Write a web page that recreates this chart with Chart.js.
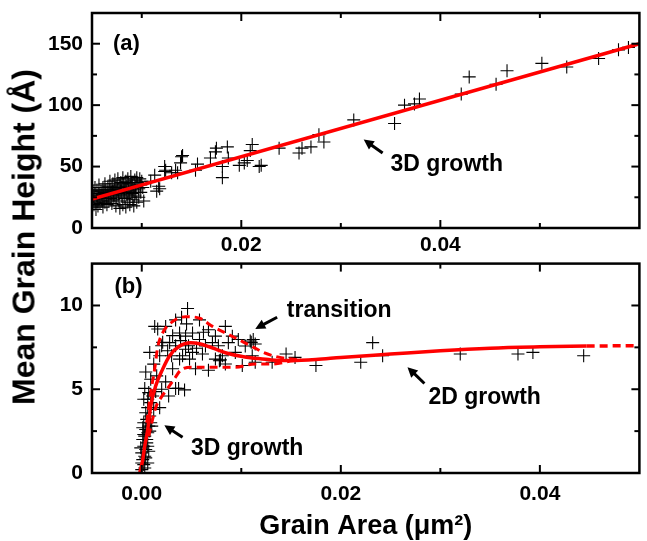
<!DOCTYPE html>
<html><head><meta charset="utf-8">
<script src="https://cdn.jsdelivr.net/npm/chart.js@4.4.1/dist/chart.umd.min.js"></script>
<style>
html,body{margin:0;padding:0;background:#fff;overflow:hidden;width:647px;height:541px;position:relative;}
#c1{position:absolute;left:0;top:0;}
#c2{position:absolute;left:0;top:256px;}
#ytitle{position:absolute;left:24px;top:237px;transform:translate(-50%,-50%) rotate(-90deg);font:bold 32px "Liberation Sans",Arial,sans-serif;white-space:nowrap;color:#000;}
</style></head>
<body>
<canvas id="c1" width="647" height="258"></canvas>
<canvas id="c2" width="647" height="287"></canvas>
<div id="ytitle">Mean Grain Height (Å)</div>
<script>
// ---------- DATA ----------
// Panel (a): tick labels
const topXTicks = [0.02, 0.04];
const topXMinor = [0.01, 0.03, 0.05];
const topYTicks = [0, 50, 100, 150];
const topYMinor = [25, 75, 125];
// Panel (a): linear fit
const topFitX = [0.005, 0.06];
const topFitY = [23.5, 150];
// Panel (a): measured grains [area, height]
const topPoints = [
[0.0050,17],[0.0050,22],[0.0051,26],[0.0051,30],[0.0052,19],[0.0052,24],[0.0053,28],[0.0053,33],[0.0054,21],[0.0054,15],
[0.0055,26],[0.0055,31],[0.0056,23],[0.0056,18],[0.0057,28],[0.0057,35],[0.0058,20],[0.0058,25],[0.0059,30],[0.0060,22],
[0.0060,27],[0.0061,33],[0.0061,17],[0.0062,25],[0.0062,29],[0.0063,21],[0.0063,36],[0.0064,27],[0.0064,31],[0.0065,24],
[0.0065,19],[0.0066,29],[0.0066,34],[0.0067,26],[0.0067,22],[0.0068,31],[0.0068,38],[0.0069,28],[0.0069,24],[0.0070,33],
[0.0070,20],[0.0071,30],[0.0071,36],[0.0072,27],[0.0072,23],[0.0073,32],[0.0073,39],[0.0074,29],[0.0074,18],[0.0075,34],
[0.0075,25],[0.0076,31],[0.0076,40],[0.0077,28],[0.0077,22],[0.0078,35],[0.0078,16],[0.0079,30],[0.0079,37],[0.0080,26],
[0.0080,33],[0.0081,19],[0.0081,41],[0.0082,29],[0.0082,36],[0.0083,24],[0.0083,32],[0.0084,38],[0.0084,17],[0.0085,27],
[0.0085,34],[0.0086,21],[0.0086,40],[0.0087,30],[0.0087,36],[0.0088,25],[0.0088,19],[0.0089,33],[0.0089,42],[0.0090,28],
[0.0090,37],[0.0091,23],[0.0091,35],[0.0092,31],[0.0092,18],[0.0093,39],[0.0093,26],[0.0094,34],[0.0094,29],[0.0095,21],
[0.0095,41],[0.0096,37],[0.0097,32],[0.0097,25],[0.0098,40],[0.0099,35],[0.0099,29],[0.0100,38],[0.0101,33],[0.0102,22],
[0.0109,38],[0.0113,43],[0.0115,30],[0.0117,34],[0.0118,32],[0.0123,46],[0.0123,50],[0.0124,47],[0.0130,45],[0.0134,47],
[0.0136,45],[0.0139,53],[0.0140,58],[0.0141,59],[0.0154,47],[0.0156,52],[0.0169,57],[0.0174,62],[0.0175,65],[0.0181,50],
[0.0181,41],[0.0186,66],[0.0187,57],[0.0198,51],[0.0203,53],[0.0206,55],[0.0209,63],[0.0211,68],[0.0218,50],[0.0220,51],
[0.0238,65],[0.0258,61],[0.0261,65],[0.0270,66],[0.0278,76],[0.0283,70],[0.0313,88],[0.0354,85],[0.0364,100],[0.0374,101],
[0.0379,105],[0.0421,109],[0.0429,123],[0.0456,117],[0.0467,128],[0.0502,134],[0.0527,131],[0.0559,138],[0.0579,145],[0.0589,147]
];

// Panel (b): tick labels
const botXTicks = [0, 0.02, 0.04];
const botXMinor = [0.01, 0.03];
const botYTicks = [0, 5, 10];
const botYMinor = [2.5, 7.5];
// Panel (b): model curve and its bounds
const fitCurve = [
[-0.0002,0],[0.0001,0.8],[0.0003,1.6],[0.0006,2.6],[0.0009,4.0],[0.0014,5.2],[0.0021,6.2],[0.0028,7.0],[0.0038,7.58],
[0.0049,7.78],[0.0058,7.72],[0.0067,7.55],[0.0076,7.35],[0.0084,7.18],[0.0101,6.95],[0.0114,6.85],[0.013,6.75],[0.015,6.72],
[0.0175,6.78],[0.02,6.9],[0.025,7.1],[0.03,7.3],[0.035,7.45],[0.04,7.53],[0.0447,7.58]
];
const fitExtension = [[0.0447,7.58],[0.05,7.6]];
const upperBound = [
[0.0005,3.0],[0.0009,4.8],[0.0013,6.22],[0.0016,7.5],[0.0021,8.36],[0.0031,9.04],[0.0044,9.33],[0.0058,9.24],[0.0071,8.75],
[0.0084,8.36],[0.0097,7.97],[0.0111,7.55],[0.0122,7.2],[0.0135,6.95],[0.015,6.8],[0.016,6.75]
];
const lowerBound = [
[0.0007,2.2],[0.0014,3.9],[0.0019,4.47],[0.0026,5.05],[0.0033,5.64],[0.0039,6.13],[0.0051,6.32],[0.0071,6.32],[0.0094,6.32],
[0.0114,6.51],[0.0129,6.5],[0.0152,6.7],[0.016,6.74]
];
// Panel (b): measured grains [area, height]
const botPoints = [
[0.0000,0.2],[0.0002,0.5],[0.0001,0.8],[0.0003,1.0],[0.0000,1.2],[0.0004,1.4],[0.0002,1.6],[0.0005,1.8],[0.0001,2.0],[0.0003,2.2],
[0.0006,2.4],[0.0004,2.6],[0.0007,2.8],[0.0002,3.0],[0.0005,3.2],[0.0008,3.4],[-0.0001,1.5],[0.0006,0.6],[0.0003,0.3],[0.0007,1.3],
[0.0005,2.0],[0.0008,2.5],[0.0001,2.7],[0.0009,3.0],[0.0004,3.6],[0.0006,3.9],[0.0009,4.2],[0.0002,4.4],[0.0011,4.6],[0.0007,4.8],
[0.0012,3.8],[0.0010,2.8],[0.0000,0.6],[0.0004,0.9],[0.0006,1.6],[0.0002,2.3],
[0.0003,5.05],[0.0004,6.03],[0.0008,7.2],[0.0014,4.86],[0.0018,3.9],[0.0024,5.44],[0.0031,6.22],[0.0034,5.05],[0.0043,4.96],[0.0037,5.05],
[0.0013,8.75],[0.0016,8.6],[0.0024,8.75],[0.0034,9.14],[0.0046,9.82],[0.0058,9.14],[0.0067,8.55],[0.0074,8.17],[0.0084,8.75],[0.0087,7.78],
[0.0097,7.97],[0.0109,7.88],[0.0054,6.22],[0.0067,6.13],[0.0084,6.51],[0.0101,6.42],[0.0018,7.0],[0.0020,7.6],[0.0028,7.78],[0.0034,7.6],
[0.0039,7.9],[0.0044,7.39],[0.0051,7.2],[0.0061,7.1],[0.0064,7.58],[0.0048,6.8],[0.0038,6.8],[0.0074,6.8],[0.0081,7.0],[0.0094,7.2],
[0.0104,7.58],[0.0110,7.8],[0.0044,8.17],[0.0051,8.36],[0.0058,7.97],[0.0038,8.36],[0.0031,8.2],[0.0021,7.8],[0.0077,7.6],[0.0071,7.78],
[0.0091,8.17],[0.0012,6.5],[0.0015,5.8],[0.0020,5.0],[0.0027,4.6],[0.0041,7.0],[0.0047,7.6],[0.0055,7.45],[0.0026,7.3],[0.0030,7.0],
[0.0062,8.4],[0.0045,8.9],[0.0040,9.3],[0.0009,5.6],[0.0006,4.4],[0.0078,6.7],[0.0079,6.75],
[0.0112,7.97],[0.0114,7.7],[0.0111,7.0],[0.0114,6.61],[0.0131,6.61],[0.0145,7.1],[0.0154,6.9],[0.0175,6.42],[0.0220,6.61],[0.0232,7.78],
[0.0242,7.0],[0.0320,7.1],[0.0378,7.1],[0.0393,7.2],[0.0444,7.0]
];

// ---------- RENDERING ----------
const FONT = '"Liberation Sans", Arial, sans-serif';
const RED = '#ff0000';
const toXY = arr => arr.map(p => ({x: p[0], y: p[1]}));

const frameTicks = {
  id: 'frameTicks',
  afterDatasetsDraw(chart, args, o) {
    const {ctx, chartArea: a, scales: {x, y}} = chart;
    ctx.save();
    ctx.fillStyle = '#000';
    ctx.textAlign = 'left';
    ctx.textBaseline = 'middle';
    for (const t of (o.texts || [])) {
      ctx.font = 'bold ' + t.size + 'px ' + FONT;
      ctx.fillText(t.text, x.getPixelForValue(t.x), y.getPixelForValue(t.y));
    }
    for (const ar of (o.arrows || [])) {
      const x1 = x.getPixelForValue(ar.from[0]), y1 = y.getPixelForValue(ar.from[1]);
      const x2 = x.getPixelForValue(ar.to[0]), y2 = y.getPixelForValue(ar.to[1]);
      const ang = Math.atan2(y2 - y1, x2 - x1);
      const hl = 10, hw = 5;
      ctx.strokeStyle = '#000'; ctx.lineWidth = 3;
      ctx.beginPath(); ctx.moveTo(x1, y1);
      ctx.lineTo(x2 - (hl - 2) * Math.cos(ang), y2 - (hl - 2) * Math.sin(ang)); ctx.stroke();
      ctx.beginPath();
      ctx.moveTo(x2, y2);
      ctx.lineTo(x2 - hl * Math.cos(ang) + hw * Math.sin(ang), y2 - hl * Math.sin(ang) - hw * Math.cos(ang));
      ctx.lineTo(x2 - hl * Math.cos(ang) - hw * Math.sin(ang), y2 - hl * Math.sin(ang) + hw * Math.cos(ang));
      ctx.closePath(); ctx.fill();
    }
    ctx.strokeStyle = '#000';
    ctx.lineWidth = 2.5;
    ctx.strokeRect(a.left, a.top, a.right - a.left, a.bottom - a.top);
    ctx.lineWidth = 2;
    const seg = (x1, y1, x2, y2) => { ctx.beginPath(); ctx.moveTo(x1, y1); ctx.lineTo(x2, y2); ctx.stroke(); };
    for (const [vals, len] of [[o.xMajor, 8], [o.xMinor, 5]]) {
      for (const v of vals) {
        const px = x.getPixelForValue(v);
        seg(px, a.bottom, px, a.bottom - len);
        seg(px, a.top, px, a.top + len);
      }
    }
    for (const [vals, len] of [[o.yMajor, 8], [o.yMinor, 5]]) {
      for (const v of vals) {
        const py = y.getPixelForValue(v);
        seg(a.left, py, a.left + len, py);
        seg(a.right, py, a.right - len, py);
      }
    }
    ctx.restore();
  }
};

function axis(min, max, ticks, fmt, pad, fit, extra) {
  return Object.assign({
    type: 'linear', min, max,
    grid: {display: false, drawTicks: false},
    border: {display: false},
    ticks: {padding: pad, color: '#000', font: {family: FONT, size: 21, weight: 'bold'},
            autoSkip: false, maxRotation: 0, callback: fmt},
    afterBuildTicks: ax => { ax.ticks = ticks.map(v => ({value: v})); },
    afterFit: ax => { fit(ax); ax.paddingTop = 0; ax.paddingBottom = 0; ax.paddingLeft = 0; ax.paddingRight = 0; }
  }, extra || {});
}

const pointStyle = {pointStyle: 'cross', pointRadius: 6.5, borderColor: '#000', backgroundColor: '#000', borderWidth: 1.1, showLine: false, clip: 0};

new Chart(document.getElementById('c1'), {
  type: 'scatter',
  data: {datasets: [
    {type: 'line', data: toXY(topFitX.map((v, i) => [v, topFitY[i]])), borderColor: RED, borderWidth: 3.5, pointRadius: 0, fill: false, clip: 0},
    Object.assign({data: toXY(topPoints)}, pointStyle)
  ]},
  options: {
    responsive: false, animation: false, events: [],
    layout: {padding: {left: 0, right: 4, top: 13, bottom: 0}},
    plugins: {
      legend: {display: false}, tooltip: {enabled: false},
      frameTicks: {
        xMajor: topXTicks, xMinor: topXMinor, yMajor: topYTicks, yMinor: topYMinor,
        texts: [{text: '(a)', x: 0.0071, y: 150, size: 22}, {text: '3D growth', x: 0.0350, y: 51.5, size: 23}],
        arrows: [{from: [0.0342, 61], to: [0.0323, 72]}]
      }
    },
    scales: {
      x: axis(0.005, 0.06, topXTicks, v => v.toFixed(2), 5, ax => { ax.height = 30; }),
      y: axis(0, 175, topYTicks, v => String(v), 9, ax => { ax.width = 92; })
    }
  },
  plugins: [frameTicks]
});

new Chart(document.getElementById('c2'), {
  type: 'scatter',
  data: {datasets: [
    {type: 'line', data: toXY(fitCurve), borderColor: RED, borderWidth: 3.5, pointRadius: 0, fill: false, cubicInterpolationMode: 'monotone', clip: 0},
    {type: 'line', data: toXY(fitExtension), borderColor: RED, borderWidth: 3.5, borderDash: [8, 5], pointRadius: 0, fill: false, clip: 0},
    {type: 'line', data: toXY(upperBound), borderColor: RED, borderWidth: 3, borderDash: [8, 5], pointRadius: 0, fill: false, cubicInterpolationMode: 'monotone', clip: 0},
    {type: 'line', data: toXY(lowerBound), borderColor: RED, borderWidth: 3, borderDash: [8, 5], pointRadius: 0, fill: false, cubicInterpolationMode: 'monotone', clip: 0},
    Object.assign({data: toXY(botPoints)}, pointStyle)
  ]},
  options: {
    responsive: false, animation: false, events: [],
    layout: {padding: {left: 0, right: 4, top: 3, bottom: 0}},
    plugins: {
      legend: {display: false}, tooltip: {enabled: false},
      frameTicks: {
        xMajor: botXTicks, xMinor: botXMinor, yMajor: botYTicks, yMinor: botYMinor,
        texts: [
          {text: '(b)', x: -0.00274, y: 11.1, size: 22},
          {text: 'transition', x: 0.01458, y: 9.7, size: 23},
          {text: '2D growth', x: 0.0288, y: 4.47, size: 23},
          {text: '3D growth', x: 0.00494, y: 1.48, size: 23}
        ],
        arrows: [
          {from: [0.0136, 9.3], to: [0.0114, 8.6]},
          {from: [0.0284, 5.34], to: [0.0267, 6.32]},
          {from: [0.0041, 2.14], to: [0.00227, 2.85]}
        ]
      }
    },
    scales: {
      x: axis(-0.005, 0.05, botXTicks, v => v.toFixed(2), 9, ax => { ax.height = 70; },
        {title: {display: true, text: 'Grain Area (μm²)', color: '#000', padding: {top: 0, bottom: 0},
                 font: {family: FONT, size: 27, weight: 'bold', lineHeight: 1.2}}}),
      y: axis(0, 12.5, botYTicks, v => String(v), 9, ax => { ax.width = 92; })
    }
  },
  plugins: [frameTicks]
});
</script>
</body></html>
